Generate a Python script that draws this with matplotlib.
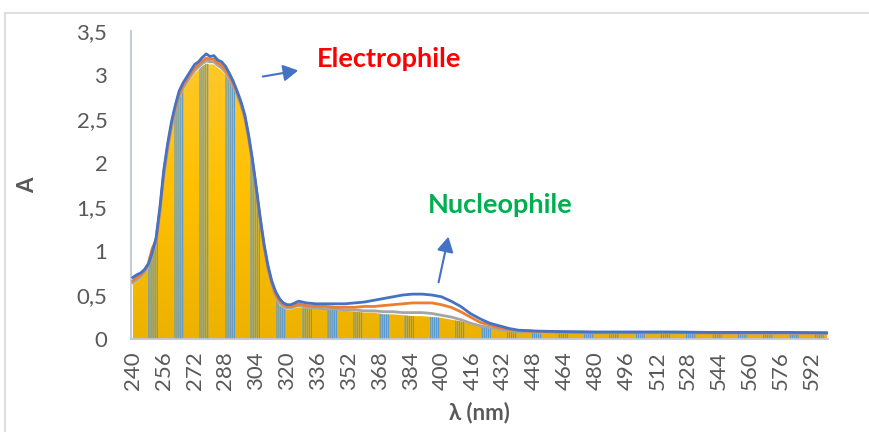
import numpy as np
import matplotlib
matplotlib.use("Agg")
import matplotlib.pyplot as plt
from matplotlib.lines import Line2D
from matplotlib.colors import LinearSegmentedColormap

plt.rcParams['font.family'] = ['Lato', 'DejaVu Sans']
plt.rcParams['hatch.linewidth'] = 0.9

# ---------------- data ----------------
wl = [240, 242, 244, 246, 248, 250, 252, 254, 256, 258, 260, 262, 264, 266, 268, 270,
      272, 274, 276, 278, 280, 282, 284, 286, 288, 290, 292, 294, 296, 298, 300, 302,
      304, 306, 308, 310, 312, 314, 316, 318, 320, 322, 324, 326, 328, 330,
      335, 340, 345, 350, 355, 360, 365, 370, 375, 380, 385, 390, 395, 400, 405, 410,
      415, 420, 425, 430, 435, 440,
      450, 460, 480, 500, 520, 540, 560, 580, 600]

blue = [0.70, 0.73, 0.75, 0.79, 0.85, 0.98, 1.15, 1.50, 1.92, 2.22, 2.47, 2.66, 2.82, 2.91, 2.98, 3.05,
        3.12, 3.15, 3.20, 3.24, 3.21, 3.22, 3.17, 3.15, 3.10, 3.02, 2.93, 2.82, 2.70, 2.55, 2.32, 2.04,
        1.72, 1.38, 1.08, 0.84, 0.66, 0.54, 0.46, 0.41, 0.39, 0.39, 0.41, 0.43, 0.42, 0.41,
        0.40, 0.40, 0.40, 0.40, 0.41, 0.42, 0.44, 0.46, 0.48, 0.50, 0.51, 0.51, 0.50, 0.48, 0.43, 0.37,
        0.29, 0.23, 0.18, 0.15, 0.12, 0.10,
        0.09, 0.085, 0.08, 0.08, 0.08, 0.075, 0.075, 0.075, 0.07]

orange = [0.66, 0.70, 0.73, 0.78, 0.86, 1.03, 1.12, 1.47, 1.89, 2.19, 2.44, 2.63, 2.79, 2.88, 2.95, 3.02,
          3.08, 3.12, 3.16, 3.19, 3.18, 3.18, 3.14, 3.11, 3.06, 2.99, 2.90, 2.80, 2.68, 2.53, 2.30, 2.02,
          1.70, 1.36, 1.06, 0.82, 0.64, 0.51, 0.43, 0.39, 0.37, 0.37, 0.38, 0.40, 0.39, 0.38,
          0.37, 0.37, 0.36, 0.36, 0.36, 0.37, 0.37, 0.38, 0.39, 0.40, 0.41, 0.41, 0.41, 0.39, 0.36, 0.31,
          0.25, 0.19, 0.16, 0.13, 0.11, 0.095,
          0.085, 0.08, 0.075, 0.075, 0.075, 0.07, 0.07, 0.07, 0.07]

gray = [0.64, 0.67, 0.71, 0.76, 0.83, 0.96, 1.10, 1.44, 1.86, 2.16, 2.41, 2.60, 2.76, 2.85, 2.92, 2.99,
        3.05, 3.09, 3.13, 3.16, 3.15, 3.15, 3.11, 3.08, 3.03, 2.96, 2.88, 2.78, 2.66, 2.51, 2.28, 2.00,
        1.68, 1.34, 1.04, 0.80, 0.62, 0.49, 0.41, 0.37, 0.35, 0.35, 0.37, 0.38, 0.37, 0.36,
        0.35, 0.34, 0.34, 0.33, 0.33, 0.32, 0.32, 0.31, 0.31, 0.30, 0.30, 0.30, 0.29, 0.27, 0.25, 0.22,
        0.18, 0.15, 0.13, 0.11, 0.09, 0.085,
        0.08, 0.075, 0.07, 0.07, 0.07, 0.07, 0.065, 0.065, 0.065]

columns = [0.62, 0.65, 0.69, 0.74, 0.80, 0.93, 1.07, 1.41, 1.83, 2.13, 2.38, 2.57, 2.73, 2.82, 2.89, 2.96,
           3.02, 3.06, 3.10, 3.13, 3.12, 3.12, 3.08, 3.05, 3.00, 2.93, 2.85, 2.75, 2.63, 2.48, 2.25, 1.97,
           1.65, 1.31, 1.01, 0.77, 0.59, 0.46, 0.38, 0.35, 0.33, 0.33, 0.35, 0.36, 0.35, 0.35,
           0.34, 0.33, 0.33, 0.32, 0.31, 0.30, 0.30, 0.28, 0.28, 0.27, 0.26, 0.26, 0.25, 0.24, 0.22, 0.20,
           0.17, 0.14, 0.12, 0.10, 0.09, 0.08,
           0.065, 0.065, 0.065, 0.065, 0.065, 0.065, 0.065, 0.065, 0.065]

xticks = list(range(240, 600, 16))
yticks = [0, 0.5, 1, 1.5, 2, 2.5, 3, 3.5]
ytick_labels = ['0', '0,5', '1', '1,5', '2', '2,5', '3', '3,5']

# ---------------- figure ----------------
W, H = 869, 432
fig = plt.figure(figsize=(W / 100, H / 100), dpi=100)
ax = fig.add_axes([131 / W, 1 - 339 / H, (828 - 131) / W, (339 - 31) / H])
ax.set_xlim(239.0, 600.5)
ax.set_ylim(0, 3.5)

# golden area (columns)
poly = ax.fill_between(wl, 0, columns, facecolor='none', edgecolor='none', zorder=1)
clip_path = poly.get_paths()[0]
grad = np.linspace(1, 0, 256).reshape(-1, 1)
cmap = LinearSegmentedColormap.from_list('gold', ['#EDB200', '#FFC000', '#FFC92F'])
img = ax.imshow(grad, extent=[239, 601, 0, 3.3], aspect='auto', cmap=cmap,
                origin='upper', zorder=1, interpolation='bilinear')
img.set_clip_path(clip_path, ax.transData)

# stripe groups
period = 13.29
for k in range(-1, 28):
    c = 250.4 + period * k
    span = ax.axvspan(c - 2.6, c + 2.6, facecolor='none', edgecolor='#5B9BD5',
                      hatch='||||||||', linewidth=0, zorder=2)
    span.set_clip_path(clip_path, ax.transData)

ax.plot(wl, gray, color='#A5A5A5', lw=2.0, zorder=3)
ax.plot(wl, orange, color='#ED7D31', lw=2.0, zorder=4)
ax.plot(wl, blue, color='#4472C4', lw=2.0, zorder=5)

# axes styling
for s in ['top', 'right']:
    ax.spines[s].set_visible(False)
for s in ['left', 'bottom']:
    ax.spines[s].set_color('#BFC6D4')
    ax.spines[s].set_linewidth(1.3)
ax.spines['bottom'].set_zorder(6)
ax.set_xticks(xticks)
ax.set_xticklabels([str(v) for v in xticks], rotation=90)
ax.set_yticks(yticks)
ax.set_yticklabels(ytick_labels)
ax.tick_params(axis='both', length=0, labelsize=16, labelcolor='#595959')
ax.tick_params(axis='x', pad=9)
ax.tick_params(axis='y', pad=17)
ax.set_ylabel('A', fontsize=16, fontweight='bold', color='#595959', labelpad=28)
ax.set_xlabel('λ (nm)', fontsize=16, fontweight='bold', color='#595959', labelpad=8)

# annotations
fig.text(389 / W, 1 - 59 / H, 'Electrophile', color='#FF0000', fontsize=19.5,
         fontweight='bold', ha='center', va='center')
fig.text(500 / W, 1 - 205 / H, 'Nucleophile', color='#00B050', fontsize=19.5,
         fontweight='bold', ha='center', va='center')
fig.patches.append(matplotlib.patches.FancyArrowPatch(
    (260 / W, 1 - 77 / H), (301 / W, 1 - 70 / H), transform=fig.transFigure,
    arrowstyle='-|>,head_length=9,head_width=5', color='#4472C4', lw=1.5))
fig.patches.append(matplotlib.patches.FancyArrowPatch(
    (438 / W, 1 - 285 / H), (449 / W, 1 - 234 / H), transform=fig.transFigure,
    arrowstyle='-|>,head_length=9,head_width=5', color='#4472C4', lw=1.5))

# outer chart border
fig.add_artist(Line2D([5 / W, 1], [1 - 13 / H, 1 - 13 / H], transform=fig.transFigure,
                      color='#D9D9D9', lw=1.2))
fig.add_artist(Line2D([5 / W, 5 / W], [0, 1 - 13 / H], transform=fig.transFigure,
                      color='#D9D9D9', lw=1.2))

fig.savefig('out.png', dpi=100)
